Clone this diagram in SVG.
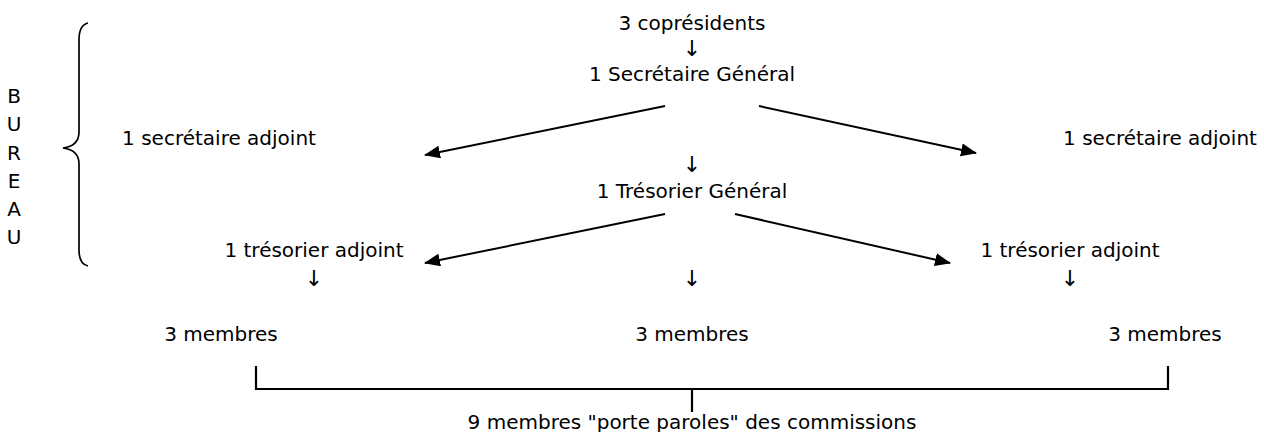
<svg xmlns="http://www.w3.org/2000/svg" width="1264" height="432" viewBox="0 0 1264 432">
<style>
  text { font-family: "DejaVu Sans", sans-serif; font-size: 20px; fill: #000; text-anchor: middle; }
  .dn { font-family: "DejaVu Sans", sans-serif; font-size: 22px; fill: #000; }
  .edge { stroke: #000; stroke-width: 2; fill: none; }
  .bracket { stroke: #000; stroke-width: 2.2; fill: none; }
</style>
<defs>
  <marker id="ah" markerUnits="userSpaceOnUse" markerWidth="17" markerHeight="14" refX="15" refY="6.5" orient="auto">
    <path d="M0,0 L16,6.5 L0,13 z" fill="#000"/>
  </marker>
</defs>
<g id="bureau">
  <path class="bracket" style="stroke-width:1.7" d="M88,23 Q79,25 79,40 L79,132 Q79,146 63,148 Q79,150 79,164 L79,250 Q79,264 88,266"/>
  <text x="14" y="103">B</text>
  <text x="14" y="131">U</text>
  <text x="14" y="160">R</text>
  <text x="14" y="188">E</text>
  <text x="14" y="216">A</text>
  <text x="14" y="244">U</text>
</g>
<g id="copresidents"><text x="692" y="30">3 coprésidents</text></g>
<g id="arrow-down-1"><text class="dn" x="692" y="56">↓</text></g>
<g id="secretaire-general"><text x="692" y="81">1 Secrétaire Général</text></g>
<g id="secretaire-adjoint-left"><text x="219" y="145">1 secrétaire adjoint</text></g>
<g id="secretaire-adjoint-right"><text x="1160" y="145">1 secrétaire adjoint</text></g>
<g id="arrow-down-2"><text class="dn" x="692" y="172">↓</text></g>
<g id="tresorier-general"><text x="692" y="198">1 Trésorier Général</text></g>
<g id="tresorier-adjoint-left"><text x="314" y="257">1 trésorier adjoint</text></g>
<g id="tresorier-adjoint-right"><text x="1070" y="257">1 trésorier adjoint</text></g>
<g id="arrow-down-3"><text class="dn" x="314" y="286">↓</text></g>
<g id="arrow-down-4"><text class="dn" x="692" y="286">↓</text></g>
<g id="arrow-down-5"><text class="dn" x="1070" y="286">↓</text></g>
<g id="membres-left"><text x="221" y="341">3 membres</text></g>
<g id="membres-middle"><text x="692" y="341">3 membres</text></g>
<g id="membres-right"><text x="1165" y="341">3 membres</text></g>
<g id="porte-paroles"><text x="692" y="429">9 membres "porte paroles" des commissions</text></g>
<g id="connectors">
  <line class="edge" x1="665" y1="106" x2="425" y2="155" marker-end="url(#ah)"/>
  <line class="edge" x1="759" y1="106" x2="976" y2="153" marker-end="url(#ah)"/>
  <line class="edge" x1="665" y1="214" x2="425" y2="263" marker-end="url(#ah)"/>
  <line class="edge" x1="735" y1="214" x2="950" y2="263" marker-end="url(#ah)"/>
  <path class="bracket" d="M256,366 L256,389 L1168,389 L1168,366"/>
  <line class="bracket" x1="692" y1="389" x2="692" y2="412"/>
</g>
</svg>
